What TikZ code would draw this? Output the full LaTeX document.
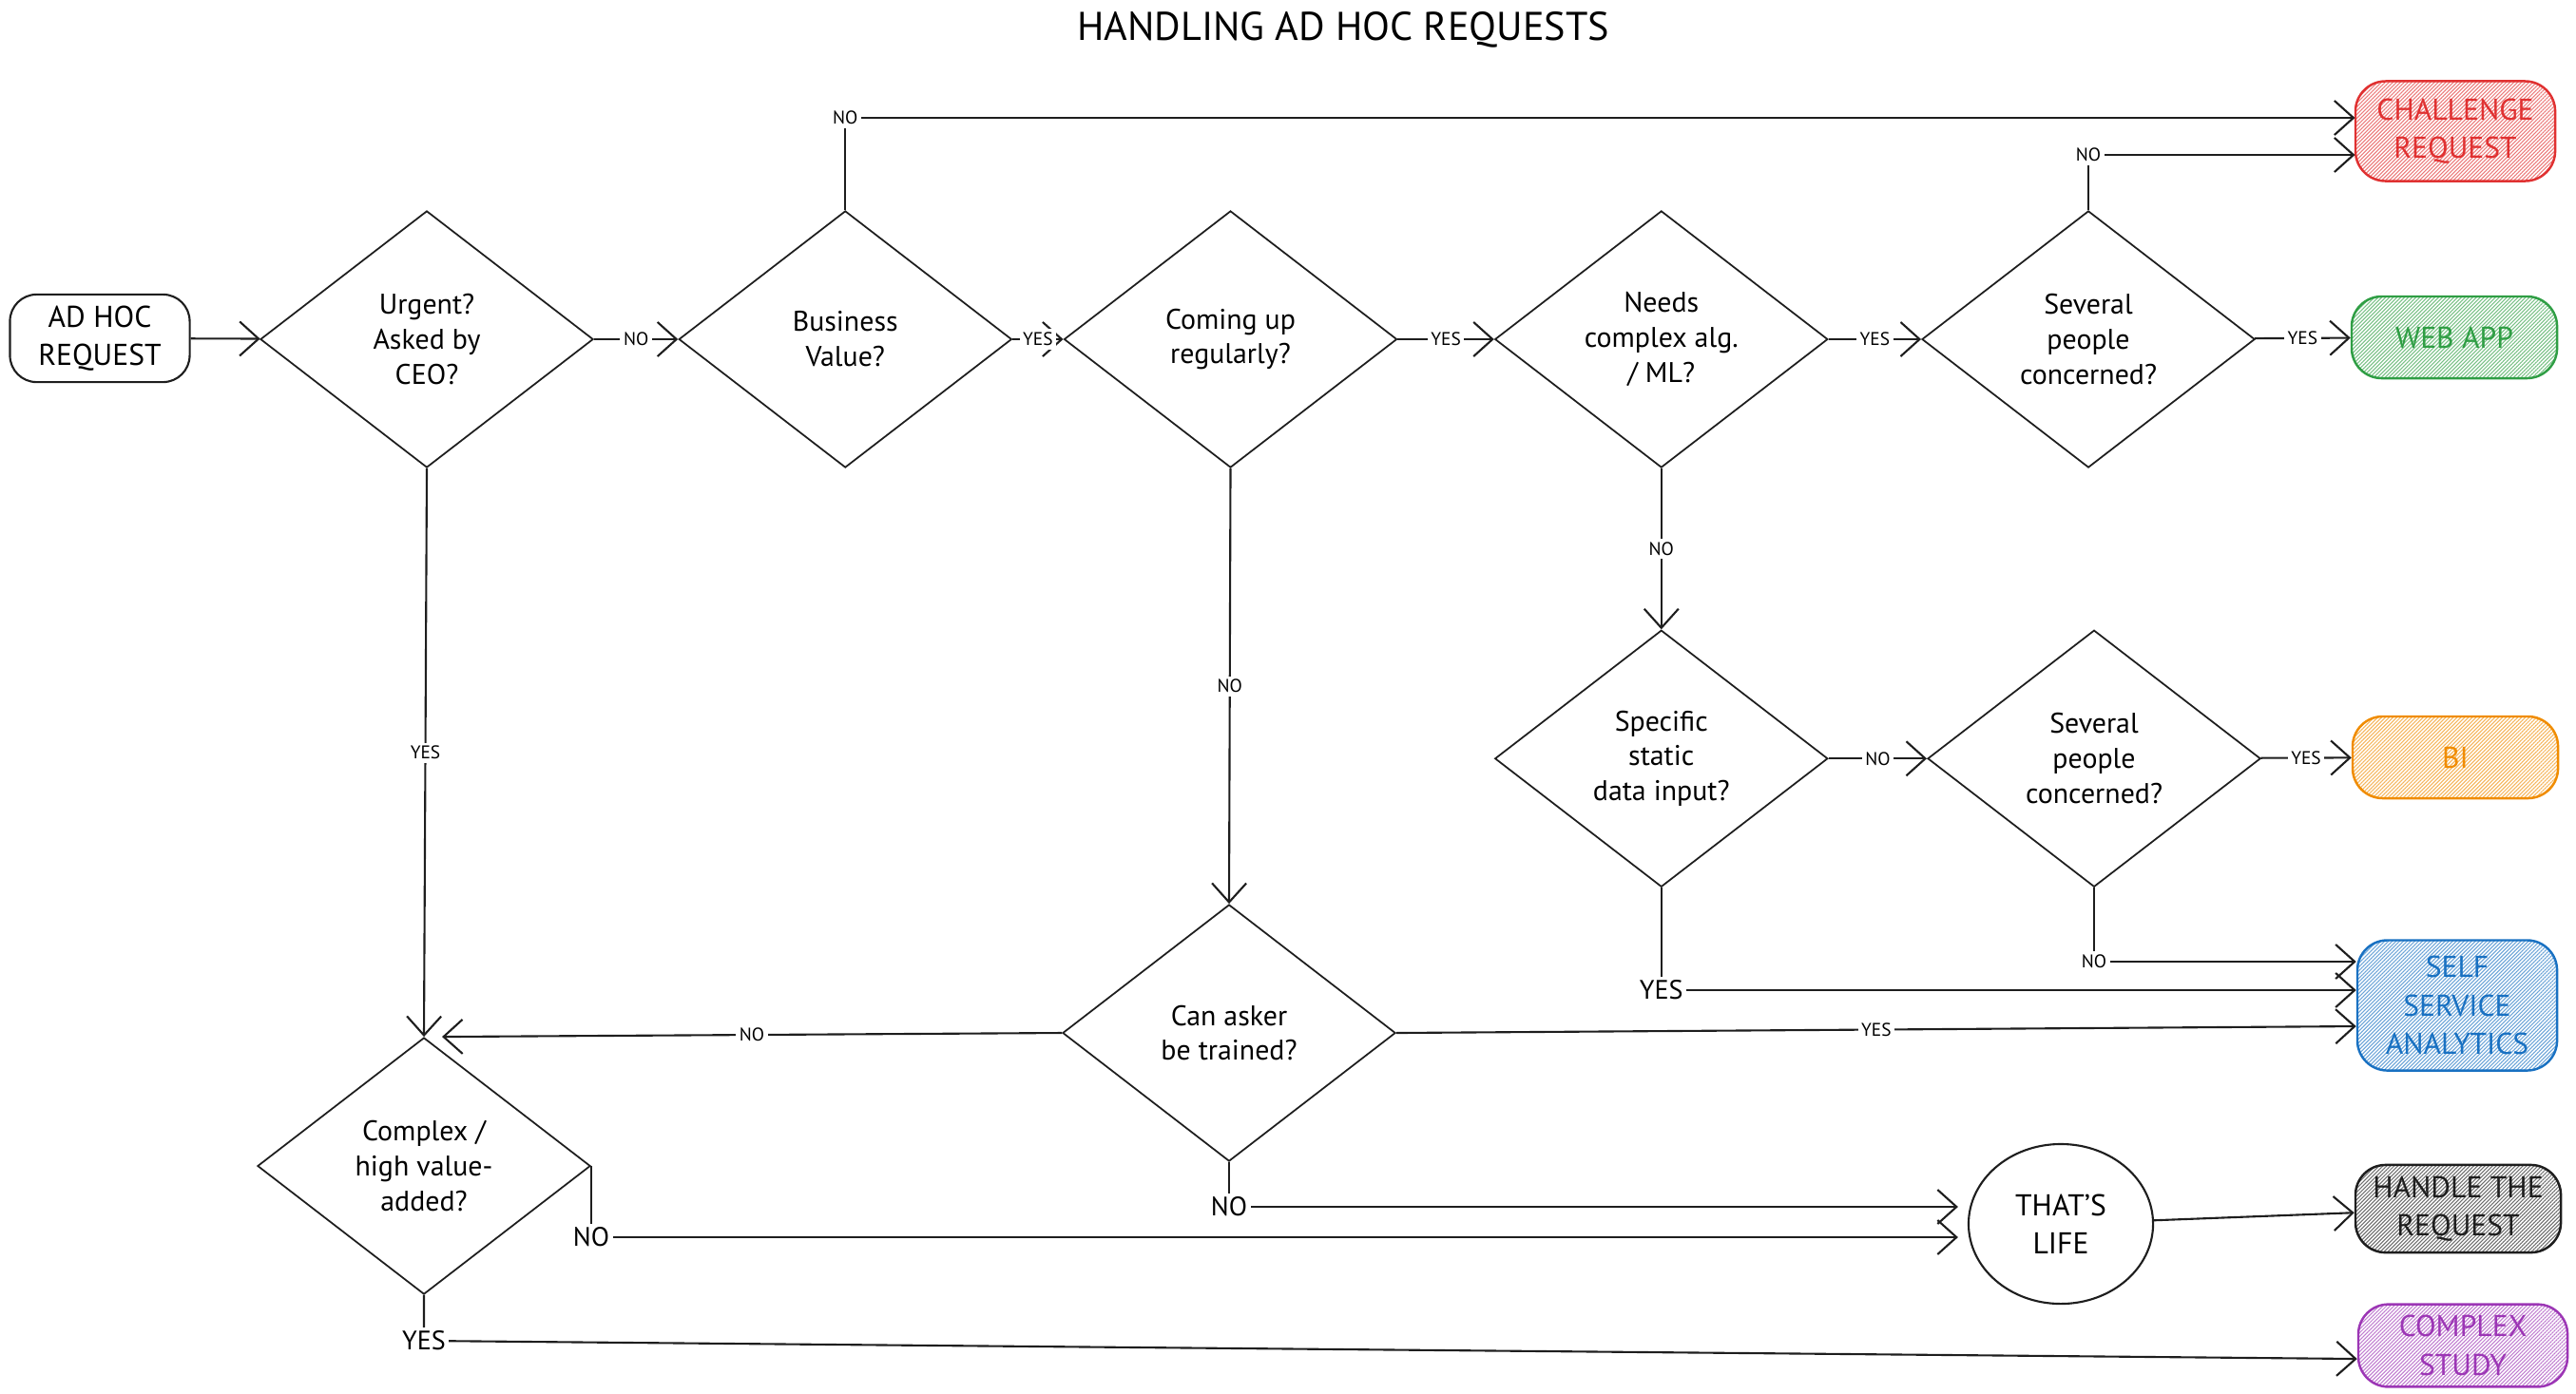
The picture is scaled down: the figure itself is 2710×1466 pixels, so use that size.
\documentclass[tikz,border=0pt]{standalone}
\usepackage{fontspec}
\setmainfont{PT Sans}
\usetikzlibrary{shapes.geometric,arrows.meta,patterns.meta}

\definecolor{ink}{HTML}{1E1E1E}
\definecolor{exred}{HTML}{E03131}
\definecolor{exgreen}{HTML}{2F9E44}
\definecolor{exorange}{HTML}{F08C00}
\definecolor{exblue}{HTML}{1971C2}
\definecolor{expurple}{HTML}{9C36B5}

\begin{document}
\begin{tikzpicture} [x=0.01cm, y=-0.01cm, node distance=4.4cm,
  decision/.style={diamond, draw=ink, line width=0.5pt, aspect=1.3, minimum width=3.5cm, minimum height=2.7cm, inner sep=0pt, align=center, font=\fontsize{8.5}{10.5}\selectfont},
  startbox/.style={rectangle, rounded corners=8pt, draw=ink, line width=0.6pt, minimum width=1.89cm, minimum height=0.8cm, align=center, font=\fontsize{9}{11.5}\selectfont},
  outcome/.style={rectangle, rounded corners=9pt, draw=#1, line width=0.7pt, text=#1, pattern={Lines[angle=45,distance=0.8pt,line width=0.3pt]}, pattern color=#1!65, minimum width=2.16cm, minimum height=0.86cm, align=center, font=\fontsize{9}{11.5}\selectfont},
  lbl/.style={fill=white, inner sep=1pt, font=\fontsize{5.5}{6}\selectfont},
  biglbl/.style={fill=white, inner sep=1pt, font=\fontsize{8}{9}\selectfont},
  arr/.style={draw=ink, line width=0.6pt, -{Straight Barb[length=2mm,width=3.6mm]}}]
\useasboundingbox (0,0) rectangle (2710,1466);

  %% Title
  \node [font=\fontsize{12}{14}\selectfont] (title) at (1413,31) {HANDLING AD HOC REQUESTS};

  %% Questions
  \node [startbox] (adhoc) at (105,356) {AD HOC\\REQUEST};
  \node [decision] (urgent) at (449,357) {Urgent?\\Asked by\\CEO?};
  \node [decision, right of=urgent, node distance=4.4cm] (business) {Business\\Value?};
  \node [decision, right of=business, node distance=4.05cm] (coming) {Coming up\\regularly?};
  \node [decision, right of=coming, node distance=4.53cm] (needs) {Needs\\complex alg.\\/ ML?};
  \node [decision, right of=needs, node distance=4.49cm] (several) {Several\\people\\concerned?};
  \node [decision, below of=needs, node distance=4.41cm] (specific) {Specific\\static\\data input?};
  \node [decision, right of=specific, node distance=4.55cm] (severaltwo) {Several\\people\\concerned?};
  \node [decision] (asker) at (1293,1087) {Can asker\\be trained?};
  \node [decision] (complex) at (446,1227) {Complex /\\high value-\\added?};
  \node [ellipse, draw=ink, line width=0.6pt, minimum width=1.94cm, minimum height=1.68cm, align=center, font=\fontsize{9}{11.5}\selectfont] (life) at (2168,1288) {THAT'S\\LIFE};

  %% Outcomes
  \node [outcome=exred, minimum height=1.05cm, minimum width=2.1cm] (challenge) at (2583,138) {CHALLENGE\\REQUEST};
  \node [outcome=exgreen] (webapp) at (2582,355) {WEB APP};
  \node [outcome=exorange] (bi) at (2583,797) {BI};
  \node [outcome=exblue, minimum height=1.37cm, minimum width=2.1cm] (self) at (2585,1058) {SELF\\SERVICE\\ANALYTICS};
  \node [outcome=ink] (handle) at (2586,1272) {HANDLE THE\\REQUEST};
  \node [outcome=expurple, minimum width=2.2cm] (study) at (2591,1416) {COMPLEX\\STUDY};

  % Draw edges
  \draw [arr] (adhoc) -- (urgent);
  \draw [arr] (urgent) -- node[lbl] {NO} (business);
  \draw [arr] (business) -- node[lbl] {YES} (coming);
  \draw [arr] (coming) -- node[lbl] {YES} (needs);
  \draw [arr] (needs) -- node[lbl] {YES} (several);
  \draw [arr] (several) -- node[lbl] {YES} (webapp);
  \draw [arr] (business.north) |- node[lbl, pos=0.5] {NO} ([yshift=0.14cm]challenge.west);
  \draw [arr] (several.north) |- node[lbl, pos=0.5] {NO} ([yshift=-0.25cm]challenge.west);
  \draw [arr] (urgent.south) -- node[lbl] {YES} (complex.north);
  \draw [arr] (coming.south) -- node[lbl] {NO} (asker.north);
  \draw [arr] (needs.south) -- node[lbl] {NO} (specific.north);
  \draw [arr] (specific) -- node[lbl] {NO} (severaltwo);
  \draw [arr] (severaltwo) -- node[lbl] {YES} (bi);
  \draw [arr] (severaltwo.south) |- node[lbl, pos=0.5] {NO} ([yshift=0.46cm]self.west);
  \draw [arr] (specific.south) |- node[biglbl, pos=0.5] {YES} ([yshift=0.16cm]self.west);
  \draw [arr] (asker.east) -- node[lbl] {YES} ([yshift=-0.22cm]self.west);
  \draw [arr] (asker.west) -- node[lbl] {NO} ([xshift=0.19cm]complex.north);
  \draw [arr, shorten >=1mm] (asker.south) |- node[biglbl, pos=0.5] {NO} ([yshift=0.18cm]life.west);
  \draw [arr, shorten >=1mm] (complex.east) |- node[biglbl, pos=0.5] {NO} ([yshift=-0.14cm]life.west);
  \draw [arr] (complex.south) -- ++(0,48) node[biglbl] {YES} -- ([yshift=-0.14cm]study.west);
  \draw [arr] (life) -- (handle);
\end{tikzpicture}
\end{document}
